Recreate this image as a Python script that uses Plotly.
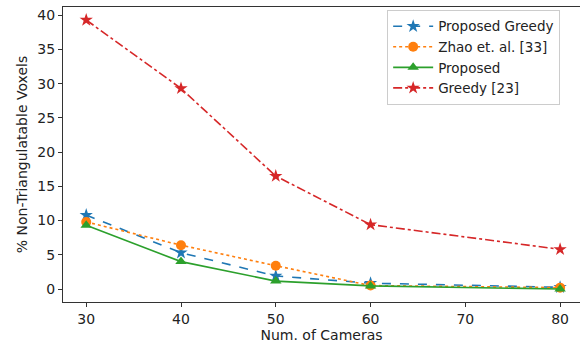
import plotly.graph_objects as go

cameras = [30, 40, 50, 60, 80]
proposed_greedy = [10.8, 5.3, 1.9, 0.85, 0.25]
zhao = [9.8, 6.4, 3.4, 0.5, 0.2]
proposed = [9.3, 4.0, 1.15, 0.45, 0.0]
greedy = [39.3, 29.3, 16.5, 9.4, 5.8]

x_ticks = [30, 40, 50, 60, 70, 80]
y_ticks = [0, 5, 10, 15, 20, 25, 30, 35, 40]

FONT = "DejaVu Sans"
fig = go.Figure()
fig.add_trace(go.Scatter(x=cameras, y=proposed_greedy, name="Proposed Greedy", mode="lines+markers",
                         line=dict(color="#1f77b4", dash="dash", width=1.6),
                         marker=dict(symbol="star", size=10, color="#1f77b4")))
fig.add_trace(go.Scatter(x=cameras, y=zhao, name="Zhao et. al. [33]", mode="lines+markers",
                         line=dict(color="#ff7f0e", dash="dot", width=1.6),
                         marker=dict(symbol="circle", size=10, color="#ff7f0e")))
fig.add_trace(go.Scatter(x=cameras, y=proposed, name="Proposed", mode="lines+markers",
                         line=dict(color="#2ca02c", dash="solid", width=1.6),
                         marker=dict(symbol="triangle-up", size=10, color="#2ca02c")))
fig.add_trace(go.Scatter(x=cameras, y=greedy, name="Greedy [23]", mode="lines+markers",
                         line=dict(color="#d62728", dash="dashdot", width=1.6),
                         marker=dict(symbol="star", size=10, color="#d62728")))

axis_common = dict(showgrid=False, zeroline=False, showline=True, linecolor="#333333", linewidth=1.2,
                   mirror=True, ticks="outside", ticklen=4, tickcolor="#333333",
                   tickfont=dict(family=FONT, size=14, color="#222222"))
fig.update_xaxes(range=[27.55, 82.1], tickvals=x_ticks,
                 title=dict(text="Num. of Cameras", font=dict(family=FONT, size=14, color="#222222"), standoff=2),
                 **axis_common)
fig.update_yaxes(range=[-1.9, 41.2], tickvals=y_ticks,
                 title=dict(text="% Non-Triangulatable Voxels", font=dict(family=FONT, size=14, color="#222222"), standoff=6),
                 **axis_common)
fig.update_layout(
    width=580, height=343,
    margin=dict(l=63, r=0, t=7, b=41),
    plot_bgcolor="white", paper_bgcolor="white",
    showlegend=True,
    legend=dict(x=0.627, y=0.99, xanchor="left", yanchor="top",
                bgcolor="white", bordercolor="#cccccc", borderwidth=1,
                font=dict(family=FONT, size=13.5, color="#222222"),
                tracegroupgap=0, itemwidth=40),
)
fig.write_html("out.html", config={"displayModeBar": False},
               post_script="document.body.style.margin='0';document.body.style.padding='0';document.body.style.overflow='hidden';")
